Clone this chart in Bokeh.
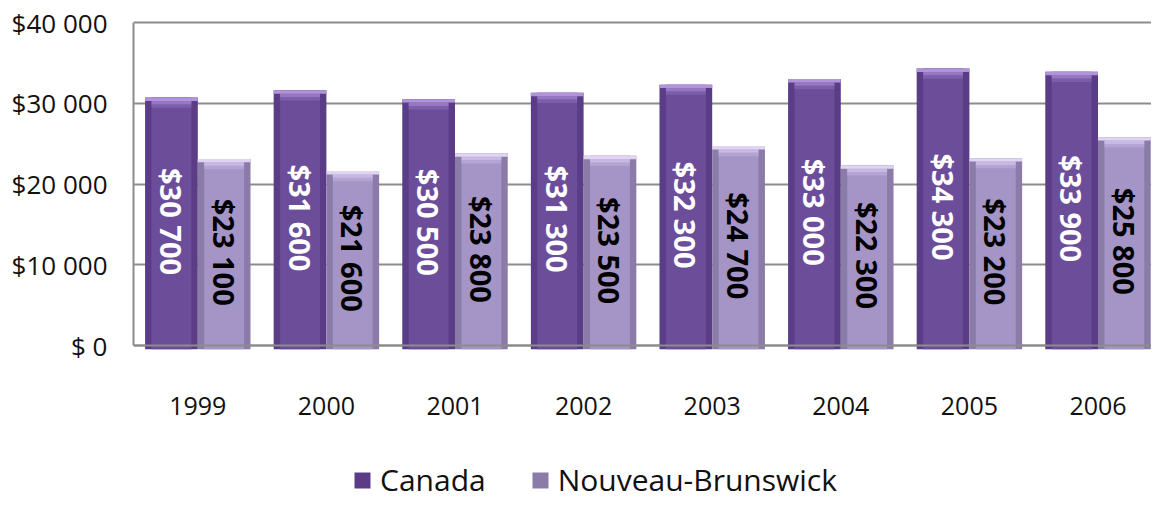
from bokeh.plotting import figure
from bokeh.models import ColumnDataSource, FixedTicker, Legend, LegendItem, Range1d
from bokeh.transform import dodge
from bokeh.core.properties import value
from bokeh.embed import file_html
from bokeh.resources import INLINE
import math

years = ["1999", "2000", "2001", "2002", "2003", "2004", "2005", "2006"]
canada = [30700, 31600, 30500, 31300, 32300, 33000, 34300, 33900]
nb = [23100, 21600, 23800, 23500, 24700, 22300, 23200, 25800]
series_names = ["Canada", "Nouveau-Brunswick"]
y_ticks = [0, 10000, 20000, 30000, 40000]
y_tick_labels = ["$ 0", "$10 000", "$20 000", "$30 000", "$40 000"]


def fmt(v):
    return "$" + f"{v:,}".replace(",", " ")


# layout constants (pixels)
H = 500
FRAME_TOP = 18        # frame top row
TOP_LINE = 22         # pixel row of the top gridline
ZERO_Y = 345          # pixel row of the zero line
Y_MAX = 40000
px_per_unit = (ZERO_Y - TOP_LINE) / Y_MAX
y_min = -(H - ZERO_Y) / px_per_unit
y_max = Y_MAX + (TOP_LINE - FRAME_TOP) / px_per_unit

HL = 420     # highlight band height (data units, style)
DEPTH = 450  # bar foot below the axis (style)
idx = list(range(len(years)))

src = ColumnDataSource(dict(
    idx=idx,
    canada=canada,
    nb=nb,
    canada_mid=[v / 2 for v in canada],
    nb_mid=[v / 2 for v in nb],
    canada_lbl=[fmt(v) for v in canada],
    nb_lbl=[fmt(v) for v in nb],
    canada_h1=[v - HL for v in canada],
    canada_h2=[v - 2 * HL for v in canada],
    canada_h3=[v - 3 * HL for v in canada],
    nb_h1=[v - HL for v in nb],
    nb_h2=[v - 2 * HL for v in nb],
    nb_h3=[v - 3 * HL for v in nb],
))

p = figure(x_range=Range1d(-0.5, len(years) - 0.584), y_range=Range1d(y_min, y_max),
           width=1151, height=H,
           output_backend="svg", toolbar_location=None,
           min_border_left=133, min_border_right=0,
           min_border_top=FRAME_TOP, min_border_bottom=0)
p.outline_line_color = None
p.background_fill_color = "white"

off = 0.205
W = 0.41
WI = 0.31
xc = dodge("idx", -off)
xn = dodge("idx", off)


def bar(x, top, h1, h2, h3, edge, body, c3, c2, c1):
    r = p.vbar(x=x, top=top, bottom=-DEPTH, width=W, source=src,
               fill_color=edge, line_color=None)
    p.vbar(x=x, top=top, bottom=-DEPTH, width=WI, source=src,
           fill_color=body, line_color=None)
    p.vbar(x=x, top=h2, bottom=h3, width=WI, source=src,
           fill_color=c3, line_color=None)
    p.vbar(x=x, top=h1, bottom=h2, width=WI, source=src,
           fill_color=c2, line_color=None)
    p.vbar(x=x, top=top, bottom=h1, width=W, source=src,
           fill_color=c1, line_color=None)
    return r


r_can = bar(xc, "canada", "canada_h1", "canada_h2", "canada_h3",
            "#5a3d86", "#6c4d9a", "#7d5eab", "#9677c2", "#b093d9")
r_nb = bar(xn, "nb", "nb_h1", "nb_h2", "nb_h3",
           "#8a7ba9", "#a594c6", "#b4a4d3", "#c8b9e3", "#e0d4f2")

# value labels
p.text(x=xc, y="canada_mid", text="canada_lbl", source=src,
       angle=-math.pi / 2, text_align="center", text_baseline="middle",
       text_font=value("Open Sans"), text_font_style="bold", text_font_size="29px",
       text_color="white")
p.text(x=xn, y="nb_mid", text="nb_lbl", source=src,
       angle=-math.pi / 2, text_align="center", text_baseline="middle",
       text_font=value("Open Sans"), text_font_style="bold", text_font_size="29px",
       text_color="black")

# grid
p.xgrid.grid_line_color = None
p.ygrid.grid_line_color = "#8c8c8c"
p.ygrid.grid_line_width = 2

# y axis
p.yaxis.ticker = FixedTicker(ticks=y_ticks)
p.yaxis.bounds = (0, Y_MAX)
p.yaxis.major_label_overrides = {t: l for t, l in zip(y_ticks, y_tick_labels)}
p.yaxis.axis_line_color = "#8c8c8c"
p.yaxis.axis_line_width = 2
p.yaxis.major_tick_line_color = None
p.yaxis.minor_tick_line_color = None
p.yaxis.major_label_standoff = 20
p.yaxis.major_label_text_font = "Open Sans"
p.yaxis.major_label_text_font_size = "26px"
p.yaxis.major_label_text_color = "#111111"

# x axis sitting on the zero line
p.xaxis.fixed_location = 0
p.xaxis.ticker = FixedTicker(ticks=idx)
p.xaxis.major_label_overrides = {i: y for i, y in zip(idx, years)}
p.xaxis.axis_line_color = "#8c8c8c"
p.xaxis.axis_line_width = 2
p.xaxis.major_tick_line_color = None
p.xaxis.minor_tick_line_color = None
p.xaxis.major_label_standoff = 45
p.xaxis.major_label_text_font = "Open Sans"
p.xaxis.major_label_text_font_size = "25px"
p.xaxis.major_label_text_color = "#111111"

legend = Legend(items=[LegendItem(label=series_names[0], renderers=[r_can]),
                       LegendItem(label=series_names[1], renderers=[r_nb])],
                orientation="horizontal", location=(219, 0),
                glyph_width=20, glyph_height=20, label_height=20,
                label_standoff=8, spacing=44,
                padding=0, margin=0, border_line_color=None,
                background_fill_alpha=0,
                label_text_font="Open Sans", label_text_font_size="30px",
                label_text_color="#111111")
p.add_layout(legend, "center")

open("out.html", "w").write(file_html(p, INLINE))
